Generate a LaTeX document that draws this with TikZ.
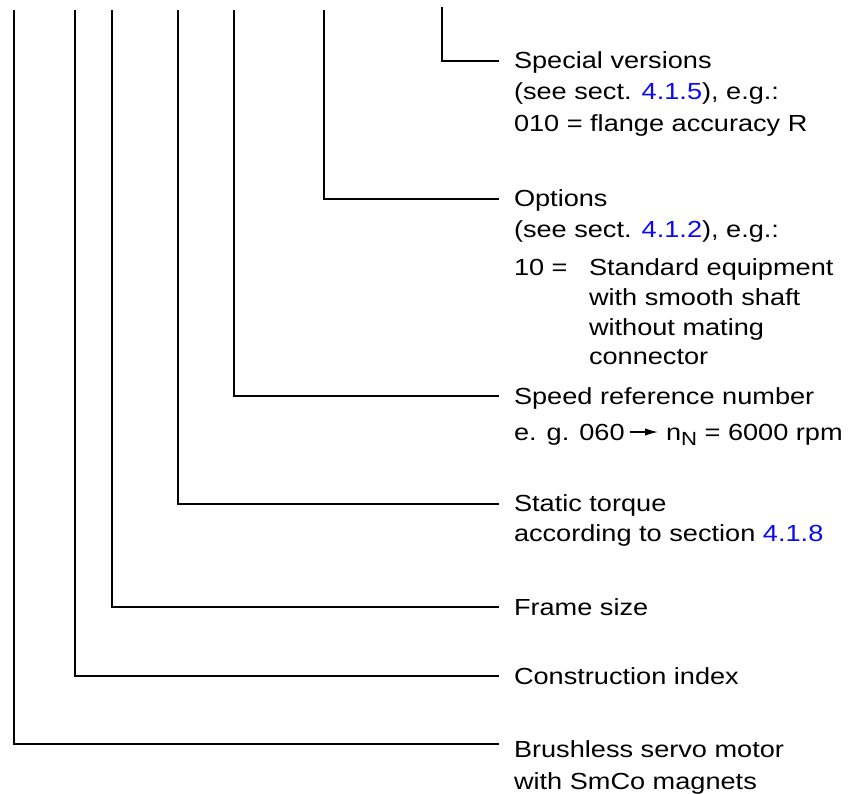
\documentclass[tikz,border=0pt]{standalone}
\usepackage{fontspec}
\setmainfont{Liberation Sans}[FakeStretch=1.165]
\usetikzlibrary{arrows.meta}
\definecolor{refblue}{RGB}{10,10,245}
\begin{document}
\begin{tikzpicture}[x=1pt,y=-1pt,
  lead/.style={line width=2pt},
  lbl/.style={anchor=base west, inner sep=0pt, outer sep=0pt, font=\fontsize{23.3}{31}\selectfont},
  refarrow/.style={line width=1.4pt, -{Latex[length=13pt,width=7.5pt]}}]
\useasboundingbox (0,0) rectangle (861,793);
\newcommand{\secref}[1]{\textcolor{refblue}{#1}}

% labels
\node[lbl] (sv1) at (514,68) {Special versions};
\node[lbl] (sv2) at (514,99) {(see sect. \secref{4.1.5}), e.g.:};
\node[lbl] (sv3) at (514,131) {010 = flange accuracy R};

\node[lbl] (op1) at (514,206) {Options};
\node[lbl] (op2) at (514,237) {(see sect. \secref{4.1.2}), e.g.:};
\node[lbl] (op3) at (514,275) {10 =};
\node[lbl] (op4) at (589,275) {Standard equipment};
\node[lbl] (op5) at (589,305) {with smooth shaft};
\node[lbl] (op6) at (589,335) {without mating};
\node[lbl] (op7) at (589,364) {connector};

\node[lbl] (sp1) at (514,404) {Speed reference number};
\node[lbl] (sp2) at (514,440) {e. g. 060};
\node[lbl] (sp3) at (666,440) {n\raisebox{-5pt}{\fontsize{19}{19}\selectfont N} = 6000 rpm};
\draw[refarrow] ([xshift=5pt,yshift=8pt]sp2.base east) -- ([xshift=-8pt,yshift=8pt]sp3.base west);

\node[lbl] (st1) at (514,511) {Static torque};
\node[lbl] (st2) at (514,541) {according to section \secref{4.1.8}};

\node[lbl] (fs) at (514,615) {Frame size};
\node[lbl] (ci) at (514,684) {Construction index};
\node[lbl] (bs1) at (514,757) {Brushless servo motor};
\node[lbl] (bs2) at (514,789) {with SmCo magnets};

% leader lines
\coordinate (tsv) at (442,7);   \coordinate (esv) at (499,61);
\coordinate (top) at (324,10);  \coordinate (eop) at (499,199);
\coordinate (tsp) at (234,10);  \coordinate (esp) at (499,396);
\coordinate (tst) at (178,10);  \coordinate (est) at (499,504);
\coordinate (tfs) at (112,10);  \coordinate (efs) at (499,607);
\coordinate (tci) at (75,10);   \coordinate (eci) at (499,676);
\coordinate (tbs) at (14,10);   \coordinate (ebs) at (499,744);

\draw[lead] (tsv) |- (esv);
\draw[lead] (top) |- (eop);
\draw[lead] (tsp) |- (esp);
\draw[lead] (tst) |- (est);
\draw[lead] (tfs) |- (efs);
\draw[lead] (tci) |- (eci);
\draw[lead] (tbs) |- (ebs);
\end{tikzpicture}
\end{document}
